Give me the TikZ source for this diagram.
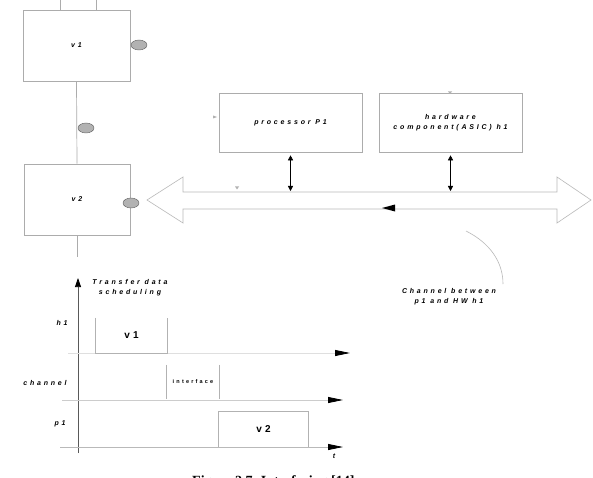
\documentclass[tikz,border=0pt]{standalone}
\usepackage{fontspec}
\setmainfont{Liberation Sans}
\newfontfamily\lbl[LetterSpace=40]{Liberation Sans}
\newfontfamily\lblb[LetterSpace=30]{Liberation Sans}
\newfontfamily\capfont{Liberation Serif}
\usetikzlibrary{arrows.meta,shapes.geometric}
\begin{document}
\begin{tikzpicture}[x=1pt,y=-1pt,
  box/.style={draw=gray!65,line width=0.6pt,inner sep=0},
  open/.style={inner sep=0},
  lab/.style={font=\lbl\bfseries\itshape\fontsize{7}{10}\selectfont,align=center,inner sep=0},
  big/.style={font=\lblb\bfseries\fontsize{10}{12}\selectfont,inner sep=0},
  port/.style={ellipse,fill=gray!60,draw=gray!75!black,line width=0.4pt,minimum width=16pt,minimum height=10pt,inner sep=0},
  wire/.style={draw=gray!65,line width=0.7pt},
  gline/.style={draw=gray!60,line width=0.7pt},
  dbl/.style={draw=black,line width=0.5pt,{Triangle[length=5pt,width=5pt]}-{Triangle[length=5pt,width=5pt]}},
  tarrow/.style={-{Triangle[length=15pt,width=6pt,color=black,fill=black]}}
]
\useasboundingbox (0,0) rectangle (593,478);
\clip (0,0) rectangle (593,478);
\fill[white] (0,0) rectangle (593,478);

% --- left column
\node[box,minimum width=107pt,minimum height=71pt] (v1) at (76.5,45.5) {};
\node[lab] at (v1.center) {v1};
\node[box,minimum width=106pt,minimum height=71pt] (v2) at (77,199.5) {};
\node[lab] at (v2.center) {v2};
\coordinate (t1) at (60,0);
\coordinate (t2) at (96,0);
\coordinate (b2) at (77,257);
\draw[wire] (t1) -- (t1 |- v1.north);
\draw[wire] (t2) -- (t2 |- v1.north);
\draw[wire] (v1.south) -- (v2.north);
\draw[wire] (v2.south) -- (b2);
\node[port] (pa) at (139,45) {};
\node[port] (pb) at (86,128) {};
\node[port] (pc) at (131,203) {};

% --- components
\node[box,minimum width=143pt,minimum height=59pt] (proc) at (290.5,122.5) {};
\node[lab] at (proc.center) {processor P1};
\node[box,minimum width=143pt,minimum height=59pt] (hw) at (450.5,122.5) {};
\node[lab] at (hw.center) {hardware\\component(ASIC) h1};

% --- channel (double block arrow)
\draw[draw=gray!55,line width=0.6pt,fill=white]
  (147,200) -- (183,177) -- (183,192) -- (557,192) -- (557,177) -- (591,200)
  -- (557,223) -- (557,209) -- (183,209) -- (183,223) -- cycle;
\coordinate (chtop) at (0,191);
\draw[dbl] ([yshift=-3pt]proc.south) -- (proc.south |- chtop);
\draw[dbl] ([yshift=-3pt]hw.south) -- (hw.south |- chtop);
\fill[black] (382,208) -- (395,204.5) -- (395,211.5) -- cycle;
% small marks
\fill[gray!60] (213,115.5) -- (217,117) -- (213,118.5) -- cycle;
\fill[gray!60] (235,186.5) -- (239,186.5) -- (237,189.5) -- cycle;
\fill[gray!60] (448,91.5) -- (452,91.5) -- (450,94) -- cycle;

% --- channel label
\coordinate (c1) at (466,231);
\coordinate (c2) at (503,284);
\draw[draw=gray!55,line width=0.6pt] (c1) .. controls (490,243) and (503,262) .. (c2);
\node[lab] (chl) at (449,297) {Channel between\\p1 and HW h1};

% --- scheduling chart
\coordinate (o) at (78,453);
\coordinate (ytop) at (78,278);
\draw[draw=gray!70!black,line width=0.7pt,-{Triangle[length=9pt,width=6pt,color=black,fill=black]}] (o) -- (ytop);
\node[lab] (title) at (130,288) {Transfer data\\scheduling};
\node[lab] (lh1) at (62,323) {h1};
\node[lab] (lch) at (45,383) {channel};
\node[lab] (lp1) at (60,424) {p1};

\coordinate (r1s) at (68,353);  \coordinate (r1e) at (350,353);
\coordinate (r2s) at (62,400);  \coordinate (r2e) at (343,400);
\coordinate (r3s) at (60,447);  \coordinate (r3e) at (343,447);
\draw[draw=gray!25,line width=0.8pt,tarrow] (r1s) -- (r1e);
\draw[draw=gray!40,line width=0.8pt,tarrow] (r2s) -- (r2e);
\draw[draw=gray!55,line width=0.8pt,tarrow] (r3s) -- (r3e);
\node[lab] (lt) at (334,456) {t};

\node[open,minimum width=71pt,minimum height=35pt] (cv1) at (131.5,335.5) {};
\draw[gline] (cv1.north west) -- (cv1.south west) -- (cv1.south east) -- (cv1.north east);
\node[big] at (cv1.center) {v1};

\node[open,minimum width=52pt,minimum height=34pt] (intf) at (193,382) {};
\draw[gline] (intf.north west) -- (intf.south west);
\draw[gline] (intf.north east) -- (intf.south east);
\node[font=\lbl\bfseries\fontsize{5.5}{7}\selectfont,inner sep=0] at (intf.center) {interface};

\node[open,minimum width=89pt,minimum height=35pt] (cv2) at (263.5,429.5) {};
\draw[gline] (cv2.south west) -- (cv2.north west) -- (cv2.north east) -- (cv2.south east);
\node[big] at (cv2.center) {v2};

% --- caption (cut off at the bottom edge, as in the reference)
\node[font=\capfont\bfseries\fontsize{14}{16}\selectfont,anchor=base west,inner sep=0] (cap) at (192,485) {Figure 2.7. Interfacing [14]};
\end{tikzpicture}
\end{document}
